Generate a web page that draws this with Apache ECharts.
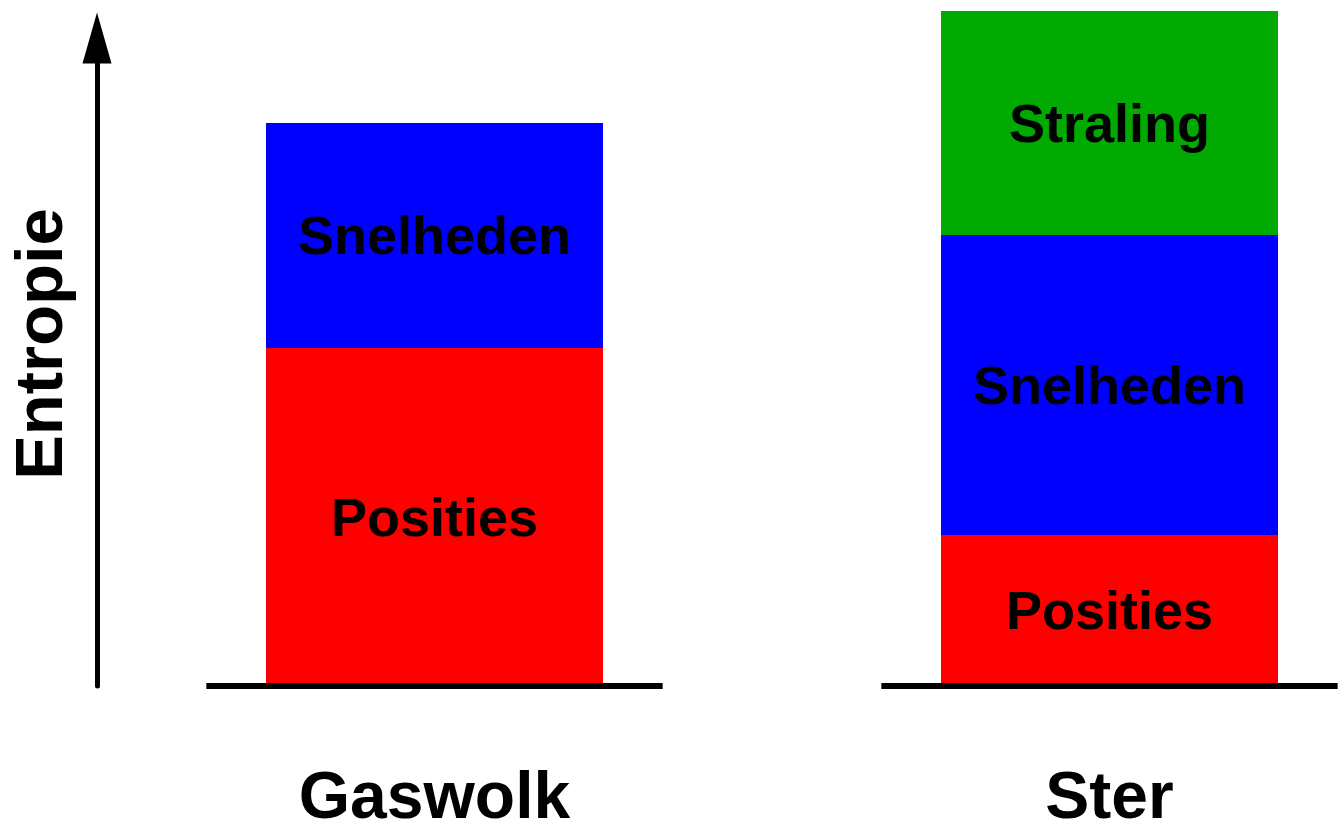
<!DOCTYPE html>
<html>
<head>
<meta charset="utf-8">
<script src="https://cdn.jsdelivr.net/npm/echarts@6/dist/echarts.min.js"></script>
<style>
  html, body { margin: 0; padding: 0; background: #fff; }
  #chart { width: 1339px; height: 822px; }
</style>
</head>
<body>
<div id="chart"></div>
<script>
// entropie per onderdeel (in willekeurige eenheden)
const categories = ["Gaswolk", "Ster"];
const posities = [338, 151];
const snelheden = [225, 300];
const straling = ["-", 224];

const font = "'Liberation Sans', Arial, sans-serif";

const chart = echarts.init(document.getElementById("chart"));

function barSeries(name, data, color) {
  return {
    name: name,
    type: "bar",
    stack: "entropie",
    data: data,
    barWidth: 337,
    clip: false,
    itemStyle: { color: color },
    label: {
      show: true,
      position: "inside",
      offset: [0, 4],
      formatter: "{a}",
      color: "#000",
      fontFamily: font,
      fontWeight: "bold",
      fontSize: 54,
    },
  };
}

const option = {
  animation: false,
  grid: {
    left: 97,
    right: -108,
    top: 38,
    bottom: 136,
    containLabel: false,
    outerBoundsMode: "none",
  },
  xAxis: {
    type: "category",
    data: categories,
    axisLine: { show: false },
    axisTick: { show: false },
    axisLabel: {
      margin: 81,
      color: "#000",
      fontFamily: font,
      fontWeight: "bold",
      fontSize: 66,
    },
  },
  yAxis: {
    type: "value",
    min: 0,
    max: 648,
    name: "Entropie",
    nameLocation: "middle",
    nameRotate: 90,
    nameGap: 20,
    nameTextStyle: {
      color: "#000",
      fontFamily: font,
      fontWeight: "bold",
      fontSize: 67,
      padding: [0, 0, 0, 36],
    },
    axisLine: {
      show: true,
      symbol: ["none", "triangle"],
      symbolSize: [29, 51],
      lineStyle: { color: "#000", width: 5 },
    },
    axisTick: { show: false },
    axisLabel: { show: false },
    splitLine: { show: false },
  },
  series: [
    barSeries("Posities", posities, "#ff0000"),
    barSeries("Snelheden", snelheden, "#0000ff"),
    barSeries("Straling", straling, "#00aa00"),
    {
      // grondlijn onder elke kolom
      type: "custom",
      z: 5,
      clip: false,
      data: categories.map((c, i) => [i, 0]),
      renderItem: function (params, api) {
        const p = api.coord([api.value(0), 0]);
        const half = api.size([1, 0])[0] * 0.338;
        return {
          type: "line",
          shape: { x1: p[0] - half, y1: p[1], x2: p[0] + half, y2: p[1] },
          style: { stroke: "#000", lineWidth: 6 },
        };
      },
    },
  ],
};

chart.setOption(option);
</script>
</body>
</html>
